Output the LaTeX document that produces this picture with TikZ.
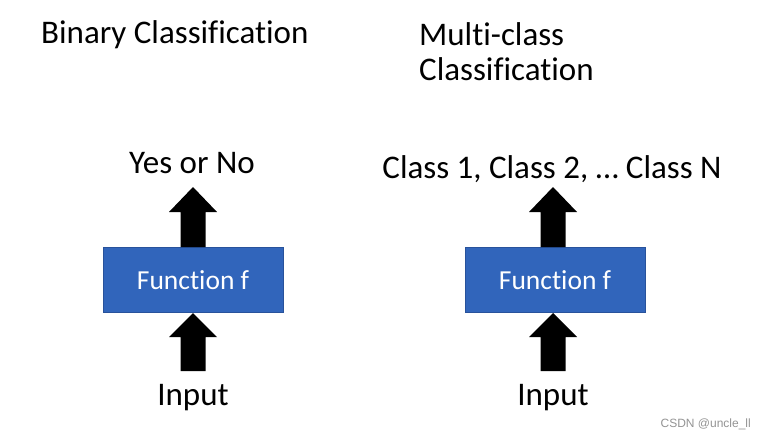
\documentclass[tikz,border=0pt]{standalone}
\usepackage{fontspec}
\setmainfont{Carlito}[Ligatures=NoCommon]
\definecolor{boxblue}{RGB}{49,101,187}
\definecolor{boxedge}{RGB}{40,82,155}
\tikzset{
  title/.style={anchor=base west, font=\fontsize{33}{35}\selectfont, inner sep=0pt, align=left},
  lbl/.style={anchor=base, font=\fontsize{33}{35}\selectfont, inner sep=0pt},
  fbox/.style={draw=boxedge, line width=0.8pt, fill=boxblue, minimum width=180pt, minimum height=65pt, text=white, font=\fontsize{27.5}{30}\selectfont, inner sep=0pt},
  bigarrow/.style={fill=black, draw=none}
}
\begin{document}
\begin{tikzpicture}[x=1pt,y=-1pt]
\useasboundingbox (0,0) rectangle (773,437);
\node[title] (t1) at (41,43) {Binary Classification};
\node[title, text width=250pt] (t2) at (419,45) {Multi-class\\Classification};
% left column
\node[fbox] (f1) at (193,280) {Function f};
\node[lbl] (y1) at (192,173) {Yes or No};
\node[lbl] (i1) at (193,405) {Input};
% right column
\node[fbox] (f2) at (555,280) {Function f};
\node[lbl] (y2) at (552,178) {Class 1, Class 2, … Class N};
\node[lbl] (i2) at (553,405) {Input};
% arrows: shaft 25 wide, head 48 wide, head length 25
\foreach \cx/\n in {193/f1,553/f2}{
  \fill[bigarrow] (\cx-12.5,247) -- (\cx-12.5,212) -- (\cx-24,212) -- (\cx,187) -- (\cx+24,212) -- (\cx+12.5,212) -- (\cx+12.5,247) -- cycle;
  \fill[bigarrow] (\cx-12.5,371) -- (\cx-12.5,337) -- (\cx-24,337) -- (\cx,313) -- (\cx+24,337) -- (\cx+12.5,337) -- (\cx+12.5,371) -- cycle;
}
\node[anchor=base east, text=gray!85, font=\fontspec{Liberation Sans}\fontsize{12}{14}\selectfont, inner sep=0pt] (wm) at (751,427) {CSDN @uncle\_ll};
\end{tikzpicture}
\end{document}
